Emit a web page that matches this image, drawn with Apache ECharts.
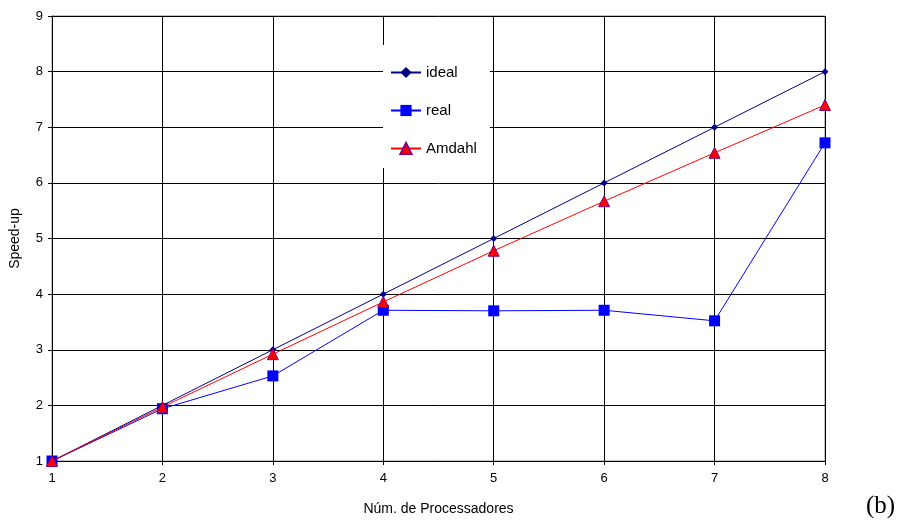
<!DOCTYPE html>
<html><head><meta charset="utf-8">
<script src="https://cdn.jsdelivr.net/npm/echarts@6/dist/echarts.min.js"></script>
<style>html,body{margin:0;padding:0;background:#fff}#c{width:913px;height:524px}</style>
</head><body><div id="c"></div>
<script>
const processors = [1, 2, 3, 4, 5, 6, 7, 8];
const ideal = [1, 2, 3, 4, 5, 6, 7, 8];
const real = [1, 1.94, 2.53, 3.71, 3.70, 3.71, 3.52, 6.72];
const amdahl = [1, 1.97, 2.92, 3.86, 4.78, 5.67, 6.54, 7.40];
const seriesNames = ['ideal', 'real', 'Amdahl'];
const toPairs = v => processors.map((p, i) => [p, v[i]]);

const chart = echarts.init(document.getElementById('c'), null, {renderer: 'canvas'});
const font = 'Arial, "Liberation Sans", sans-serif';
chart.setOption({
  animation: false,
  backgroundColor: '#fff',
  grid: {left: 52, right: 88, top: 16, bottom: 63, show: true, borderColor: '#888', borderWidth: 1},
  xAxis: {
    type: 'value', min: 1, max: 8, interval: 1,
    name: 'Núm. de Processadores', nameLocation: 'middle', nameGap: 41,
    nameTextStyle: {fontFamily: font, fontSize: 14, color: '#000'},
    axisLine: {lineStyle: {color: '#000', width: 1}},
    axisTick: {show: true, length: 4, lineStyle: {color: '#000'}},
    axisLabel: {fontFamily: font, fontSize: 13, color: '#000', margin: 11},
    splitLine: {show: true, lineStyle: {color: '#000', width: 1}}
  },
  yAxis: {
    type: 'value', min: 1, max: 9, interval: 1,
    name: 'Speed-up', nameLocation: 'middle', nameGap: 30,
    nameTextStyle: {fontFamily: font, fontSize: 14, color: '#000'},
    axisLine: {show: true, lineStyle: {color: '#000', width: 1}},
    axisTick: {show: true, length: 4, lineStyle: {color: '#000'}},
    axisLabel: {fontFamily: font, fontSize: 13, color: '#000', margin: 9},
    splitLine: {show: true, lineStyle: {color: '#000', width: 1}}
  },
  legend: {
    orient: 'vertical', left: 383, top: 45,
    backgroundColor: '#fff', padding: [20, 13, 12, 7],
    itemGap: 23, itemWidth: 30, itemHeight: 14,
    textStyle: {fontFamily: font, fontSize: 15, color: '#000'},
    data: seriesNames
  },
  series: [
    {name: seriesNames[0], type: 'line', data: toPairs(ideal), symbol: 'diamond', symbolSize: 7,
     lineStyle: {color: '#000080', width: 1}, itemStyle: {color: '#000080'}, z: 3},
    {name: seriesNames[1], type: 'line', data: toPairs(real), symbol: 'rect', symbolSize: 11,
     lineStyle: {color: '#0000ff', width: 1}, itemStyle: {color: '#0000ff'}, z: 2},
    {name: seriesNames[2], type: 'line', data: toPairs(amdahl), symbol: 'triangle', symbolSize: 11,
     lineStyle: {color: '#ff0000', width: 1}, itemStyle: {color: '#ff0000', borderColor: '#800080', borderWidth: 1}, z: 4}
  ],
  graphic: [{type: 'text', left: 866, top: 494,
    style: {text: '(b)', fontFamily: '"Liberation Serif", "Times New Roman", serif', fontSize: 25, fill: '#000'}}]
});
</script></body></html>
